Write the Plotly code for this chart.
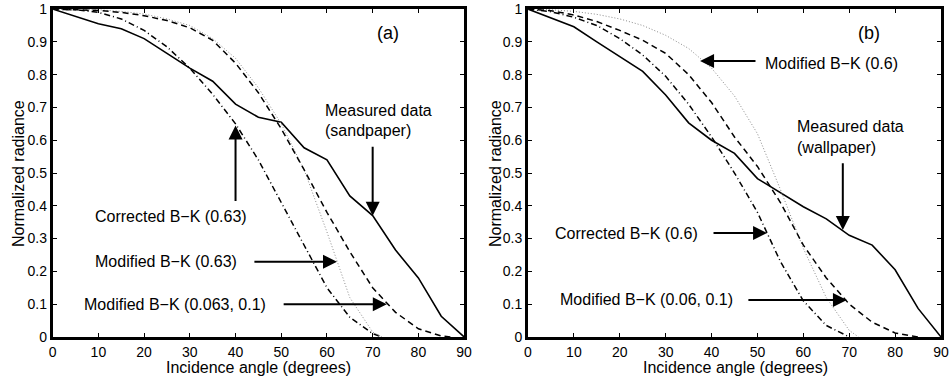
import plotly.graph_objects as go

# ---------------- data: panel (a) sandpaper ----------------
meas_x = [0, 10, 15, 20, 25, 30, 35, 40, 45, 50, 55, 60, 65, 70, 75, 80, 85, 90]
meas_a = [1, 0.955, 0.94, 0.91, 0.865, 0.82, 0.78, 0.71, 0.67, 0.655, 0.577, 0.54, 0.43, 0.37, 0.265, 0.18, 0.063, 0]

corr_a_x = [0, 5, 10, 15, 20, 25, 30, 35, 40, 45, 50, 55, 60, 65, 70, 72]
corr_a_y = [1, 0.998, 0.99, 0.97, 0.935, 0.885, 0.82, 0.74, 0.65, 0.54, 0.41, 0.28, 0.15, 0.06, 0.01, 0]

mod1_a_x = [0, 5, 10, 15, 20, 25, 30, 35, 40, 45, 50, 55, 60, 65, 70, 72]
mod1_a_y = [1, 1, 0.998, 0.993, 0.985, 0.97, 0.95, 0.91, 0.85, 0.76, 0.65, 0.51, 0.32, 0.12, 0.015, 0]

mod2_a_x = [0, 5, 10, 15, 20, 25, 30, 35, 40, 45, 50, 55, 60, 65, 70, 75, 80, 85, 87]
mod2_a_y = [1, 0.999, 0.996, 0.99, 0.98, 0.965, 0.943, 0.905, 0.835, 0.745, 0.635, 0.51, 0.38, 0.26, 0.15, 0.075, 0.025, 0.003, 0]

# ---------------- data: panel (b) wallpaper ----------------
meas_b = [1, 0.946, 0.90, 0.855, 0.81, 0.738, 0.653, 0.6, 0.56, 0.483, 0.44, 0.397, 0.36, 0.31, 0.28, 0.205, 0.087, 0]

corr_b_x = [0, 5, 10, 15, 20, 25, 30, 35, 40, 45, 50, 55, 60, 65, 70]
corr_b_y = [1, 0.992, 0.975, 0.95, 0.91, 0.86, 0.795, 0.71, 0.61, 0.5, 0.38, 0.23, 0.11, 0.035, 0]

mod1_b_x = [0, 5, 10, 15, 20, 25, 30, 35, 40, 45, 50, 55, 60, 65, 70, 72]
mod1_b_y = [1, 0.998, 0.993, 0.984, 0.97, 0.95, 0.92, 0.88, 0.82, 0.735, 0.62, 0.45, 0.27, 0.12, 0.02, 0]

mod2_b_x = [0, 5, 10, 15, 20, 25, 30, 35, 40, 45, 50, 55, 60, 65, 70, 75, 80, 85]
mod2_b_y = [1, 0.995, 0.982, 0.962, 0.935, 0.905, 0.865, 0.8, 0.715, 0.61, 0.52, 0.41, 0.28, 0.18, 0.1, 0.045, 0.012, 0]

x_ticks = [0, 10, 20, 30, 40, 50, 60, 70, 80, 90]
y_ticks = [0, 0.1, 0.2, 0.3, 0.4, 0.5, 0.6, 0.7, 0.8, 0.9, 1]
y_tick_text = ["0", "0.1", "0.2", "0.3", "0.4", "0.5", "0.6", "0.7", "0.8", "0.9", "1"]

FONT = "Liberation Sans, Arial, Helvetica, sans-serif"

fig = go.Figure()

def add_panel(xa, ya, meas, corr, mod1, mod2):
    fig.add_trace(go.Scatter(x=meas_x, y=meas, mode="lines", xaxis=xa, yaxis=ya,
                             line=dict(color="black", width=1.6), showlegend=False))
    fig.add_trace(go.Scatter(x=corr[0], y=corr[1], mode="lines", xaxis=xa, yaxis=ya,
                             line=dict(color="black", width=1.5, dash="6px,3px,1px,3px"), showlegend=False))
    fig.add_trace(go.Scatter(x=mod1[0], y=mod1[1], mode="lines", xaxis=xa, yaxis=ya,
                             line=dict(color="#8a8a8a", width=1, dash="1px,2px"), showlegend=False))
    fig.add_trace(go.Scatter(x=mod2[0], y=mod2[1], mode="lines", xaxis=xa, yaxis=ya,
                             line=dict(color="black", width=1.5, dash="6px,4px"), showlegend=False))

add_panel("x", "y", meas_a, (corr_a_x, corr_a_y), (mod1_a_x, mod1_a_y), (mod2_a_x, mod2_a_y))
add_panel("x2", "y2", meas_b, (corr_b_x, corr_b_y), (mod1_b_x, mod1_b_y), (mod2_b_x, mod2_b_y))

axis_common = dict(showline=True, linecolor="black", linewidth=2.8, mirror="ticks",
                   ticks="inside", ticklen=4, tickwidth=1, tickcolor="black",
                   showgrid=False, zeroline=False, automargin=False,
                   tickfont=dict(family=FONT, size=14, color="black"))

fig.update_layout(
    width=951, height=379,
    margin=dict(l=0, r=0, t=0, b=0),
    paper_bgcolor="white", plot_bgcolor="white",
    xaxis=dict(domain=[0.0554, 0.488], range=[0, 90], tickvals=x_ticks, anchor="y", **axis_common),
    yaxis=dict(domain=[0.111, 0.976], range=[0, 1], tickvals=y_ticks, ticktext=y_tick_text, anchor="x", **axis_common),
    xaxis2=dict(domain=[0.5552, 0.9895], range=[0, 90], tickvals=x_ticks, anchor="y2", **axis_common),
    yaxis2=dict(domain=[0.111, 0.976], range=[0, 1], tickvals=y_ticks, ticktext=y_tick_text, anchor="x2", **axis_common),
)

anns = []
def txt(text, x, y, xr, yr, size=16):
    anns.append(dict(text=text, x=x, y=y, xref=xr, yref=yr, xanchor="left", yanchor="middle",
                     showarrow=False, font=dict(family=FONT, size=size, color="black")))

def arrow(x0, y0, x1, y1, xr, yr):
    anns.append(dict(text="", x=x1, y=y1, ax=x0, ay=y0, xref=xr, yref=yr, axref=xr, ayref=yr,
                     showarrow=True, arrowhead=2, arrowsize=1.4, arrowwidth=2, arrowcolor="black"))

# axis titles
for xp in [0.0189, 0.5205]:
    anns.append(dict(text="Normalized radiance", x=xp, y=0.5435, xref="paper", yref="paper",
                     textangle=-90, showarrow=False, xanchor="center", yanchor="middle",
                     font=dict(family=FONT, size=16, color="black")))
for xp in [0.2713, 0.773]:
    anns.append(dict(text="Incidence angle (degrees)", x=xp, y=0.031, xref="paper", yref="paper",
                     showarrow=False, xanchor="center", yanchor="middle",
                     font=dict(family=FONT, size=16, color="black")))

# panel (a)
txt("(a)", 70.5, 0.927, "x", "y", size=18)
txt("Measured data", 59.1, 0.692, "x", "y")
txt("(sandpaper)", 59.1, 0.631, "x", "y")
arrow(70, 0.585, 70, 0.37, "x", "y")
txt("Corrected B\u2212K (0.63)", 8.8, 0.366, "x", "y")
arrow(40, 0.41, 40, 0.645, "x", "y")
txt("Modified B\u2212K (0.63)", 8.8, 0.229, "x", "y")
arrow(43.8, 0.229, 62.2, 0.229, "x", "y")
txt("Modified B\u2212K (0.063, 0.1)", 6.4, 0.10, "x", "y")
arrow(50.2, 0.10, 73.1, 0.10, "x", "y")

# panel (b)
txt("(b)", 71.4, 0.927, "x2", "y2", size=18)
txt("Modified B\u2212K (0.6)", 51.3, 0.835, "x2", "y2")
arrow(49.9, 0.842, 37.5, 0.842, "x2", "y2")
txt("Measured data", 58.2, 0.643, "x2", "y2")
txt("(wallpaper)", 58.2, 0.579, "x2", "y2")
arrow(68.6, 0.534, 68.6, 0.326, "x2", "y2")
txt("Corrected B\u2212K (0.6)", 5.5, 0.314, "x2", "y2")
arrow(40.1, 0.317, 52.1, 0.317, "x2", "y2")
txt("Modified B\u2212K (0.06, 0.1)", 6.6, 0.113, "x2", "y2")
arrow(47.7, 0.113, 69.5, 0.113, "x2", "y2")

fig.update_layout(annotations=anns)
fig.write_html("out.html", config={"displayModeBar": False},
               post_script="document.body.style.margin='0';document.body.style.padding='0';"
                           "document.documentElement.style.overflow='hidden';")
